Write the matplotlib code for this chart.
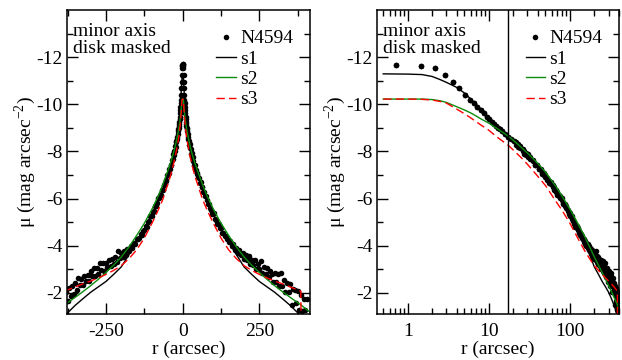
import matplotlib
matplotlib.use('Agg')
import numpy as np
import matplotlib.pyplot as plt
from matplotlib.ticker import MultipleLocator, FixedLocator, NullFormatter

plt.rcParams['font.family'] = ['Liberation Serif', 'DejaVu Serif']
plt.rcParams['mathtext.fontset'] = 'custom'
plt.rcParams['mathtext.rm'] = 'Liberation Serif'
plt.rcParams['axes.unicode_minus'] = False

# observed profile, radius in arcsec (same radii both sides of the centre)
r_prof = [0.0, 0.72, 1.45, 2.17, 2.90, 3.62, 4.35, 5.07, 5.80, 6.52, 7.25, 7.97, 8.70,
          9.42, 10.1, 10.9, 11.6, 12.3, 13.0, 13.8, 14.5, 15.9, 17.4, 18.8, 20.3,
          21.7, 23.2, 24.6, 26.1, 27.5, 29.0, 30.4, 32.6, 34.8, 37.0, 39.1, 41.3, 43.5,
          45.7, 47.9, 50.0, 52.9, 55.8, 58.7, 61.6, 64.5, 67.4, 70.3, 73.2, 76.1, 79.0,
          82.7, 86.3, 89.9, 93.5, 97.2, 101, 105, 109, 113, 117, 121, 125, 129, 133,
          137, 141, 145, 150, 155, 160, 165, 170, 175, 180, 185, 190, 195, 200, 205,
          210, 215, 220, 225, 230, 235, 240, 245, 250, 255, 260, 265, 270, 275, 280,
          285, 290, 295, 300, 305, 310, 315, 320, 325, 330, 335, 340, 345, 350, 355,
          360, 365, 370, 375, 380, 385, 390, 395, 400, 405]
mu_core = [-11.72, -11.67, -11.64, -11.52, -11.23, -10.95, -10.68, -10.40, -10.20, -10.05,
           -9.90, -9.76, -9.62, -9.48, -9.36, -9.25, -9.16, -9.08, -9.00, -8.93, -8.86,
           -8.74, -8.62, -8.52, -8.42]
mu_west = mu_core + [
    -8.28, -8.30, -8.14, -8.10, -7.91, -7.93, -7.78, -7.78, -7.59, -7.43, -7.43, -7.26,
    -7.22, -7.05, -7.09, -6.90, -6.85, -6.68, -6.69, -6.51, -6.47, -6.26, -6.26, -6.10,
    -6.12, -5.94, -5.78, -5.78, -5.59, -5.53, -5.35, -5.37, -5.15, -5.09, -4.93, -4.94,
    -4.76, -4.73, -4.53, -4.54, -4.40, -4.43, -4.28,
    -4.14, -4.20, -3.98, -4.06, -3.82, -3.88, -3.67, -3.82, -3.60, -3.68, -3.45, -3.62,
    -3.40, -3.55, -3.24, -3.41, -3.20, -3.38, -3.03, -3.21, -3.02, -3.34, -2.82, -3.10,
    -2.78, -3.05, -2.65, -2.94, -2.81, -2.45, -2.85, -2.44, -2.79, -2.28, -2.84, -2.27,
    -2.54, -2.02, -2.42, -2.02, -2.37, -1.47, -2.17, -2.11, -1.56, -2.06, -1.25, -1.90,
    -1.24, -1.75, -1.28, -1.72]
mu_east = mu_core + [
    -8.38, -8.20, -8.23, -8.03, -8.00, -7.84, -7.88, -7.69, -7.64, -7.42, -7.41, -7.24,
    -7.27, -7.10, -6.98, -6.99, -6.78, -6.76, -6.61, -6.59, -6.38, -6.37, -6.16, -6.16,
    -6.02, -6.01, -5.83, -5.68, -5.69, -5.47, -5.44, -5.24, -5.24, -5.06, -5.02, -4.81,
    -4.84, -4.66, -4.62, -4.46, -4.51, -4.32, -4.30,
    -4.27, -4.07, -4.12, -3.90, -4.00, -3.78, -3.86, -3.62, -3.77, -3.53, -3.68, -3.46,
    -3.78, -3.31, -3.52, -3.23, -3.45, -3.15, -3.40, -3.09, -3.28, -2.94, -3.25, -2.97,
    -3.28, -2.78, -3.07, -2.72, -3.04, -2.70, -2.92, -2.48, -2.76, -2.48, -2.72, -2.31,
    -2.60, -2.32, -2.62, -2.12, -2.42, -1.95, -2.27, -1.87, -2.21, -1.66, -2.02, -1.59,
    -2.04, -1.38, -1.98, -1.22]

# model profiles
r_mod = [0, 0.5, 1, 1.5, 2, 2.5, 3, 4, 5, 6, 7, 8, 10, 12.5, 15, 17.5, 20, 25, 30, 40, 50,
         66, 80, 100, 125, 150, 175, 200, 225, 250, 275, 300, 325, 350, 375, 385, 386, 420]
s1 = [-11.29, -11.29, -11.28, -11.26, -11.18, -11.05, -10.93, -10.72, -10.48, -10.22,
      -10.00, -9.80, -9.42, -9.08, -8.84, -8.64, -8.45, -8.13, -7.85, -7.35, -6.93, -6.36,
      -5.92, -5.35, -4.72, -4.15, -3.62, -3.10, -2.78, -2.48, -2.25, -2.02, -1.75, -1.47,
      -1.15, -1.02, -1.01, -0.60]
s2 = [-10.22, -10.22, -10.22, -10.22, -10.20, -10.15, -10.08, -9.90, -9.76, -9.63, -9.50,
      -9.38, -9.20, -8.98, -8.80, -8.64, -8.48, -8.18, -7.93, -7.50, -7.12, -6.55, -6.10,
      -5.55, -4.95, -4.43, -3.95, -3.52, -3.17, -2.86, -2.57, -2.30, -2.05, -1.81, -1.58,
      -1.49, -1.48, -1.12]
s3 = [-10.22, -10.22, -10.22, -10.21, -10.18, -10.12, -10.05, -9.80, -9.60, -9.42, -9.26,
      -9.12, -8.90, -8.62, -8.42, -8.25, -8.06, -7.74, -7.45, -6.95, -6.55, -5.92, -5.50,
      -4.95, -4.32, -3.82, -3.45, -3.15, -2.95, -2.78, -2.63, -2.50, -2.38, -2.25, -2.12,
      -2.06, -0.90, -0.90]

r_line = 17.4
note = 'minor axis\ndisk masked'

fs = 14
rp = np.array(r_prof)
rm = np.array(r_mod)


def mirror(r, v):
    v = np.array(v)
    return np.concatenate([-r[::-1], r]), np.concatenate([v[::-1], v])


def style_axes(ax):
    ax.set_ylim(-1.1, -14.0)
    ax.yaxis.set_major_locator(FixedLocator([-12, -10, -8, -6, -4, -2]))
    ax.yaxis.set_minor_locator(FixedLocator([-13, -11, -9, -7, -5, -3]))
    ax.tick_params(which='both', direction='in', top=True, right=True, width=1.0,
                   labelsize=fs)
    ax.tick_params(which='major', length=8)
    ax.tick_params(which='minor', length=4)
    ax.tick_params(axis='x', pad=6.5)
    ax.tick_params(axis='y', pad=3)
    for sp in ax.spines.values():
        sp.set_linewidth(1.1)
    ax.set_xlabel('r (arcsec)', fontsize=fs, labelpad=0.5)
    ax.set_ylabel(r'$\mathrm{\mu}$ (mag arcsec$^{-2}$)', fontsize=fs)
    ax.yaxis.set_label_coords(-0.118, 0.5)
    ax.text(0.025, 0.957, note, transform=ax.transAxes, fontsize=fs, va='top',
            ha='left', linespacing=1.0)
    ax.legend(loc='upper right', bbox_to_anchor=(0.93, 0.935), frameon=False,
              fontsize=fs, numpoints=1, handlelength=1.0, handletextpad=0.22,
              labelspacing=0.14, borderpad=0, borderaxespad=0)


fig = plt.figure(figsize=(6.22, 3.6), dpi=100)
ax1 = fig.add_axes([0.1077, 0.1278, 0.3907, 0.8444])
ax2 = fig.add_axes([0.6056, 0.1278, 0.39, 0.8444])

dot = dict(ls='none', marker='o', ms=4.0, mew=0, color='black')

# linear panel
ax1.plot(-rp, mu_east, label='N4594', **dot)
ax1.plot(rp, mu_west, **dot)
x, y = mirror(rm, s1)
ax1.plot(x, y, color='black', lw=1.0, label='s1')
x, y = mirror(rm, s2)
ax1.plot(x, y, color='#0c8c0c', lw=1.0, label='s2')
x, y = mirror(rm, s3)
ax1.plot(x, y, color='red', lw=1.0, dashes=(6, 3), label='s3')
ax1.set_xlim(-377, 415)
ax1.xaxis.set_major_locator(MultipleLocator(250))
ax1.xaxis.set_minor_locator(MultipleLocator(125))
style_axes(ax1)

# log panel
pos = rp > 0
ax2.plot(rp[pos], np.array(mu_east)[pos], label='N4594', **dot)
ax2.plot(rp[pos], np.array(mu_west)[pos], **dot)
ax2.plot(rm[1:], s1[1:], color='black', lw=1.0, label='s1')
ax2.plot(rm[1:], s2[1:], color='#0c8c0c', lw=1.0, label='s2')
ax2.plot(rm[1:], s3[1:], color='red', lw=1.0, dashes=(6, 3), label='s3')
ax2.axvline(r_line, color='black', lw=1.0)
ax2.set_xscale('log')
ax2.set_xlim(0.415, 406)
ax2.xaxis.set_major_locator(FixedLocator([1, 10, 100]))
ax2.xaxis.set_minor_locator(FixedLocator([0.5, 0.6, 0.7, 0.8, 0.9] + [2, 3, 4, 5, 6, 7, 8, 9]
                                         + [20, 30, 40, 50, 60, 70, 80, 90, 200, 300, 400]))
ax2.xaxis.set_minor_formatter(NullFormatter())
ax2.set_xticklabels(['1', '10', '100'])
style_axes(ax2)

fig.savefig('out.png', dpi=100)
